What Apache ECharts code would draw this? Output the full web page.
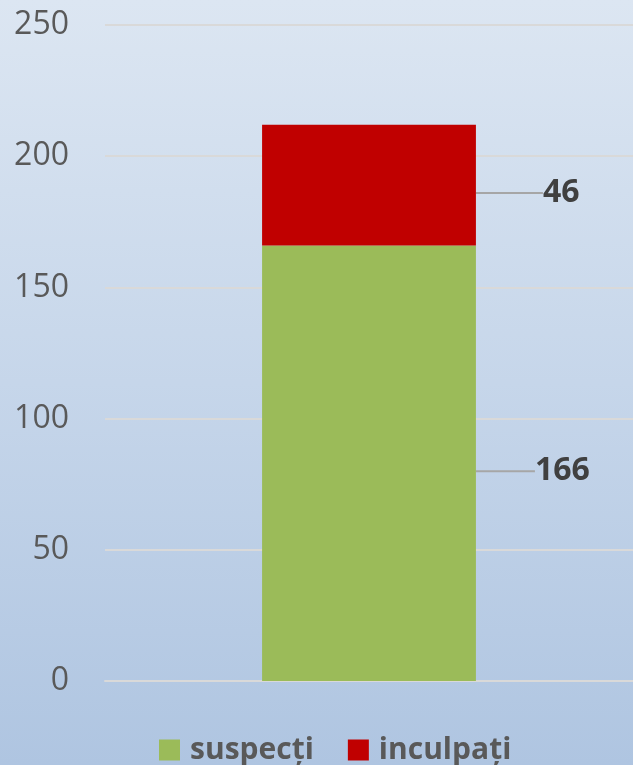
<!DOCTYPE html>
<html>
<head>
<meta charset="utf-8">
<script src="https://cdn.jsdelivr.net/npm/echarts@6/dist/echarts.min.js"></script>
<style>
  html, body { margin: 0; padding: 0; }
  #chart {
    width: 633px;
    height: 765px;
    background: linear-gradient(to bottom, #dce6f2 0%, #c6d6ea 50%, #afc5e1 100%);
  }
</style>
</head>
<body>
<div id="chart"></div>
<script>
const categories = [''];
const suspecti = [166];
const inculpati = [46];
const yTicks = { min: 0, max: 250, interval: 50 };

const chart = echarts.init(document.getElementById('chart'));

// etichete cu linie de legătură
const labelCommon = {
    show: true,
    position: 'right',
    distance: 0,
    padding: [0, 0, 0, 8],
    fontFamily: 'Open Sans',
    fontWeight: 'bold',
    fontSize: 32,
    color: '#404040'
};

chart.setOption({
    backgroundColor: 'transparent',
    textStyle: { fontFamily: 'Open Sans' },
    grid: { left: 105, right: 0, top: 25, bottom: 84 },
    legend: {
        bottom: -5,
        left: 154,
        itemWidth: 21,
        itemHeight: 21,
        itemGap: 34,
        icon: 'rect',
        textStyle: {
            fontFamily: 'Open Sans',
            fontWeight: 'bold',
            fontSize: 30,
            color: '#595959',
            padding: [0, 0, 0, 5]
        },
        data: ['suspecți', 'inculpați']
    },
    xAxis: {
        type: 'category',
        data: categories,
        axisLine: { lineStyle: { color: '#d9d9d9', width: 2 } },
        axisTick: { show: false },
        axisLabel: { show: false }
    },
    yAxis: {
        type: 'value',
        min: yTicks.min,
        max: yTicks.max,
        interval: yTicks.interval,
        axisLine: { show: false },
        axisTick: { show: false },
        axisLabel: { fontSize: 32, color: '#595959', margin: 36, fontFamily: 'Open Sans' },
        splitLine: { lineStyle: { color: '#d9d9d9', width: 2 } }
    },
    series: [
        {
            name: 'suspecți',
            type: 'bar',
            stack: 'total',
            barWidth: '40.5%',
            data: suspecti,
            itemStyle: { color: '#9bbb59' },
            label: labelCommon,
            labelLayout: { dx: 51, dy: 8 },
            labelLine: { show: true, lineStyle: { color: '#a6a6a6', width: 2 } }
        },
        {
            name: 'inculpați',
            type: 'bar',
            stack: 'total',
            data: inculpati,
            itemStyle: { color: '#c00000' },
            label: labelCommon,
            labelLayout: { dx: 59, dy: 8 },
            labelLine: { show: true, lineStyle: { color: '#a6a6a6', width: 2 } }
        }
    ]
});
</script>
</body>
</html>
